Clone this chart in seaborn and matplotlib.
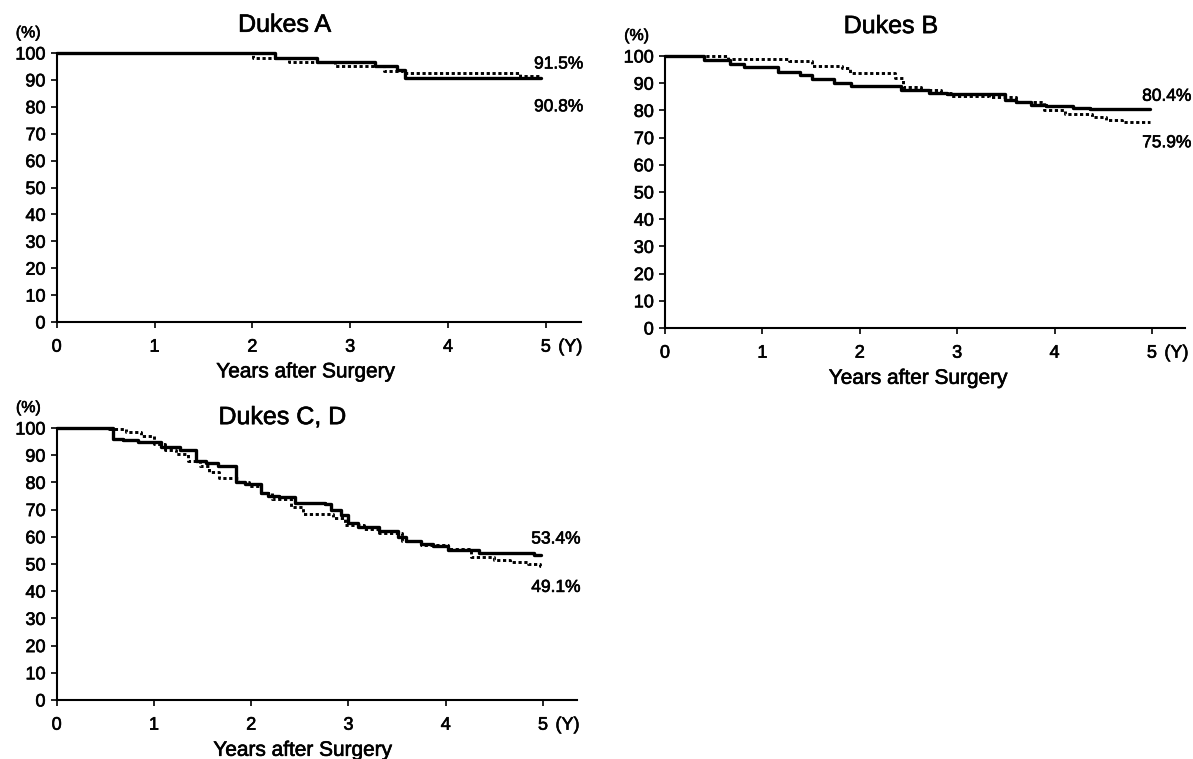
import matplotlib
matplotlib.use("Agg")
import matplotlib.pyplot as plt
import matplotlib.patheffects as pe
import seaborn as sns
import pandas as pd

# ---------------- data (survival %, step functions) ----------------
a_solid_t = [0, 2.23, 2.66, 3.25, 3.48, 3.56, 4.95]
a_solid_s = [100, 98.3, 96.8, 95.0, 93.6, 90.8, 90.8]
a_dot_t = [0, 2.01, 2.37, 2.84, 3.35, 3.54, 4.74, 4.95]
a_dot_s = [100, 98.3, 96.6, 95.2, 93.2, 92.6, 91.5, 91.5]

b_solid_t = [0, 0.40, 0.67, 0.81, 1.16, 1.39, 1.51, 1.74, 1.91, 2.42, 2.71, 2.90,
             3.49, 3.60, 3.76, 3.91, 4.19, 4.36, 4.98]
b_solid_s = [100, 98.5, 97.2, 96.0, 94.0, 93.0, 91.5, 90.0, 89.0, 87.5, 86.5, 85.9,
             84.0, 83.0, 82.0, 81.5, 81.0, 80.4, 80.4]
b_dot_t = [0, 0.65, 1.27, 1.51, 1.82, 1.90, 2.36, 2.44, 2.63, 2.83, 2.94, 3.33,
           3.60, 3.89, 4.11, 4.38, 4.53, 4.69, 4.98]
b_dot_s = [100, 99.0, 98.0, 96.3, 95.5, 93.6, 92.0, 88.7, 87.5, 86.5, 85.2, 84.8,
           83.0, 80.2, 78.6, 77.6, 76.6, 75.9, 75.9]

c_solid_t = [0, 0.58, 0.68, 0.84, 1.07, 1.27, 1.43, 1.54, 1.66, 1.84, 1.94, 2.10,
             2.17, 2.29, 2.45, 2.76, 2.82, 2.92, 3.00, 3.10, 3.31, 3.51, 3.59, 3.75,
             3.87, 4.02, 4.34, 4.91, 4.98]
c_solid_s = [100, 96.0, 95.5, 95.0, 93.0, 92.0, 88.0, 87.0, 86.0, 80.0, 79.5, 76.0,
             75.0, 74.5, 72.5, 72.0, 70.0, 68.0, 65.0, 63.5, 62.0, 60.0, 58.5, 57.5,
             56.5, 55.3, 54.2, 53.4, 53.4]
c_dot_t = [0, 0.54, 0.71, 0.87, 1.00, 1.11, 1.23, 1.35, 1.47, 1.57, 1.67, 1.86,
           1.98, 2.10, 2.21, 2.41, 2.53, 2.84, 2.96, 3.16, 3.31, 3.55, 3.75, 4.02,
           4.26, 4.50, 4.66, 4.85, 4.97, 4.99]
c_dot_s = [100, 99.5, 98.5, 97.0, 94.0, 92.0, 90.5, 88.0, 86.0, 84.0, 81.5, 80.0,
           78.5, 76.0, 74.0, 71.0, 68.5, 67.0, 64.5, 63.0, 61.5, 58.5, 57.0, 55.5,
           52.5, 51.5, 50.8, 50.0, 49.1, 49.1]

titles = ["Dukes A", "Dukes B", "Dukes C, D"]
end_labels = [("91.5%", "90.8%"), ("80.4%", "75.9%"), ("53.4%", "49.1%")]
xtick_vals = [0, 1, 2, 3, 4, 5]
ytick_vals = list(range(0, 101, 10))
xlabel_text = "Years after Surgery"

# ---------------- styling ----------------
sns.set_theme(style="white")
plt.rcParams["font.family"] = ["Liberation Sans", "DejaVu Sans"]
for k in ("text.color", "axes.labelcolor", "xtick.color", "ytick.color", "axes.edgecolor"):
    plt.rcParams[k] = "black"
plt.rcParams["axes.linewidth"] = 1.5

heavy = [pe.withStroke(linewidth=0.45, foreground="black")]

fig = plt.figure(figsize=(11.93, 7.59), dpi=100)
W, H = 1193, 759

def px_axes(left, right, top, bottom):
    return fig.add_axes([left / W, 1 - bottom / H, (right - left) / W, (bottom - top) / H])

panels = [
    dict(ax=px_axes(56.7, 581, 53, 322), xmax=5.36, solid=(a_solid_t, a_solid_s),
         dot=(a_dot_t, a_dot_s), title_y=110.5, lab_y=(95.9, 80.0), lab_x=4.88,
         xl=0.475, title_x=2.33),
    dict(ax=px_axes(665, 1185, 56, 328), xmax=5.34, solid=(b_solid_t, b_solid_s),
         dot=(b_dot_t, b_dot_s), title_y=111.0, lab_y=(85.2, 68.1), lab_x=4.90,
         xl=0.487, title_x=2.32),
    dict(ax=px_axes(56.7, 577, 428, 700), xmax=5.35, solid=(c_solid_t, c_solid_s),
         dot=(c_dot_t, c_dot_s), title_y=104.0, lab_y=(59.2, 41.4), lab_x=4.88,
         xl=0.473, title_x=2.32),
]

tick_len = 4.0
xpad = 8.0
fs_tick = 13
for p, title, labs in zip(panels, titles, end_labels):
    ax = p["ax"]
    t, s = p["solid"]
    df_s = pd.DataFrame({"t": t, "s": s})
    t2, s2 = p["dot"]
    df_d = pd.DataFrame({"t": t2, "s": s2})
    sns.lineplot(data=df_d, x="t", y="s", ax=ax, color="black", lw=2.1,
                 linestyle=(0, (1.1, 0.9)), drawstyle="steps-post",
                 estimator=None, clip_on=False)
    sns.lineplot(data=df_s, x="t", y="s", ax=ax, color="black", lw=2.4,
                 drawstyle="steps-post", estimator=None, clip_on=False)
    ax.set_xlim(0, p["xmax"])
    ax.set_ylim(0, 100)
    ax.set_xticks(xtick_vals)
    ax.set_xticklabels([str(v) for v in xtick_vals])
    ax.set_yticks(ytick_vals)
    ax.tick_params(axis="both", direction="out", length=tick_len, width=1.2,
                   labelsize=fs_tick, colors="black", bottom=True, left=True)
    ax.tick_params(axis="x", pad=xpad)
    ax.tick_params(axis="y", pad=4.0)
    for lab in ax.get_xticklabels() + ax.get_yticklabels():
        lab.set_path_effects(heavy)
    for side in ("top", "right"):
        ax.spines[side].set_visible(False)
    ax.set_ylabel("")
    ax.set_xlabel(xlabel_text, fontsize=15, path_effects=heavy)
    ax.xaxis.set_label_coords(p["xl"], -0.15)
    ax.text(p["title_x"], p["title_y"], title, ha="center", va="center",
            fontsize=18, clip_on=False, path_effects=heavy)
    ax.text(-0.29, 107.5, "(%)", ha="center", va="center", fontsize=11.5,
            clip_on=False, path_effects=heavy)
    for txt, yv in zip(labs, p["lab_y"]):
        ax.text(p["lab_x"], yv, txt, ha="left", va="center",
                fontsize=12.5, clip_on=False, path_effects=heavy)
    ax.annotate("(Y)", xy=(5, 0), xycoords="data",
                xytext=(9.0, -(tick_len + xpad)), textcoords="offset points",
                ha="left", va="top", fontsize=fs_tick, annotation_clip=False,
                path_effects=heavy)

fig.savefig("out.png", dpi=100)
